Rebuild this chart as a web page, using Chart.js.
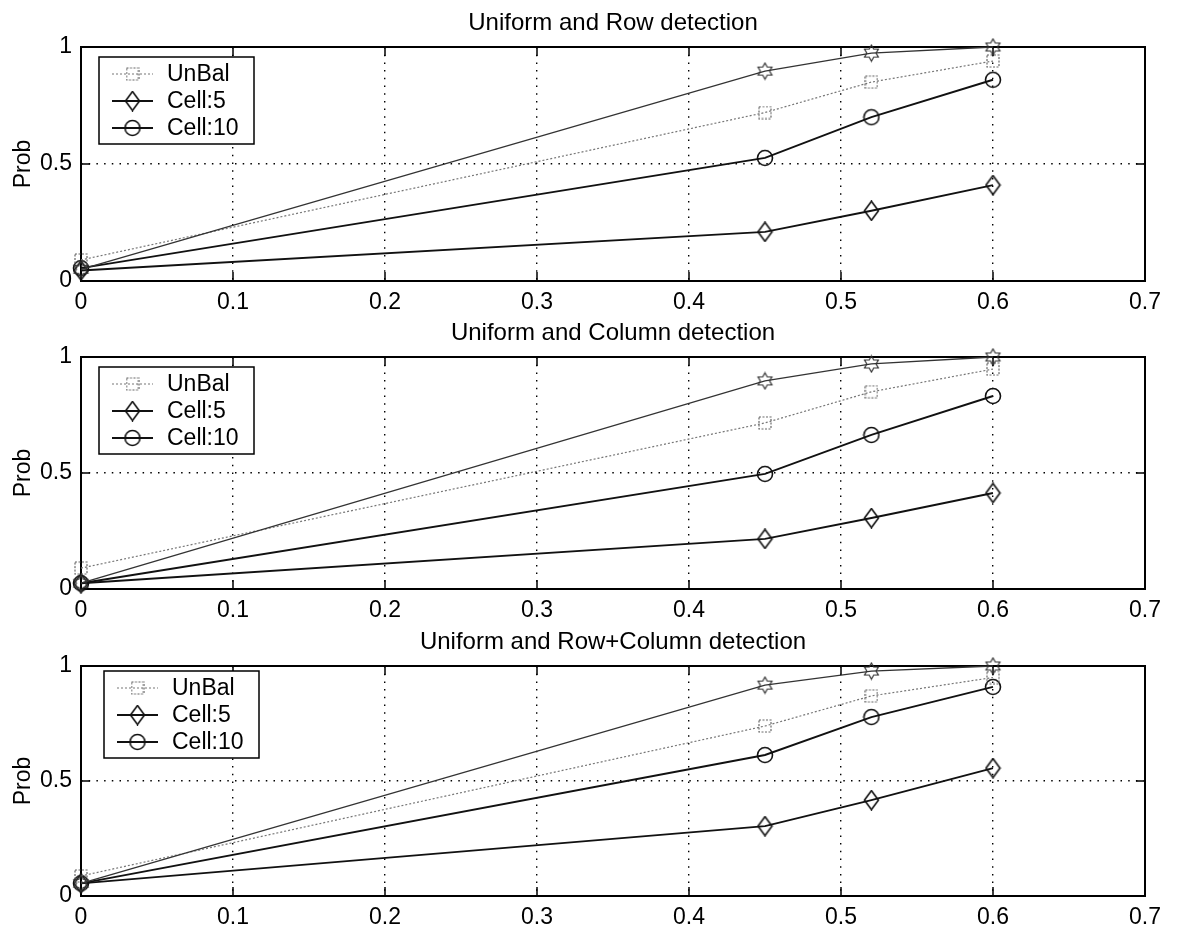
<!DOCTYPE html>
<html>
<head>
<meta charset="utf-8">
<title>Detection probability</title>
<script src="https://cdn.jsdelivr.net/npm/chart.js@4.4.1/dist/chart.umd.min.js"></script>
<style>
  body { margin: 0; background: #fff; }
  #wrap { position: relative; width: 1177px; height: 933px; }
  canvas { position: absolute; left: 0; }
</style>
</head>
<body>
<div id="wrap">
  <canvas id="rowChart" width="1177" height="320" style="top:0"></canvas>
  <canvas id="colChart" width="1177" height="310" style="top:320px"></canvas>
  <canvas id="bothChart" width="1177" height="303" style="top:630px"></canvas>
</div>
<script>
const xValues = [0, 0.45, 0.52, 0.6];
const xTicks = [0, 0.1, 0.2, 0.3, 0.4, 0.5, 0.6, 0.7];
const yTicks = [0, 0.5, 1];
const seriesNames = ["", "UnBal", "Cell:5", "Cell:10"];

// Uniform and Row detection
const rowStar = [0.05, 0.897, 0.974, 1.0];
const rowUnBal = [0.09, 0.72, 0.85, 0.94];
const rowCell5 = [0.045, 0.21, 0.30, 0.41];
const rowCell10 = [0.055, 0.526, 0.70, 0.86];

// Uniform and Column detection
const colStar = [0.025, 0.897, 0.97, 1.0];
const colUnBal = [0.09, 0.716, 0.85, 0.948];
const colCell5 = [0.025, 0.216, 0.306, 0.414];
const colCell10 = [0.025, 0.496, 0.664, 0.832];

// Uniform and Row+Column detection
const bothStar = [0.055, 0.917, 0.978, 1.0];
const bothUnBal = [0.087, 0.739, 0.87, 0.95];
const bothCell5 = [0.055, 0.304, 0.417, 0.556];
const bothCell10 = [0.055, 0.613, 0.778, 0.909];

const FONT = "'Liberation Sans', Arial, Helvetica, sans-serif";

// small canvases used as open (unfilled) point markers
function makeMarker(w, h, draw) {
  const c = document.createElement("canvas");
  c.width = w;
  c.height = h;
  draw(c.getContext("2d"), w, h);
  return c;
}

const starMark = makeMarker(19, 19, (ctx) => {
  ctx.strokeStyle = "#333";
  ctx.lineWidth = 1.2;
  const R = 8, r = R / Math.sqrt(3);
  ctx.beginPath();
  for (let k = 0; k < 12; k++) {
    const a = -Math.PI / 2 + (k * Math.PI) / 6;
    const rad = k % 2 === 0 ? R : r;
    const px = 9.5 + rad * Math.cos(a), py = 9.5 + rad * Math.sin(a);
    k ? ctx.lineTo(px, py) : ctx.moveTo(px, py);
  }
  ctx.closePath();
  ctx.stroke();
});

const squareMark = makeMarker(14, 14, (ctx) => {
  ctx.strokeStyle = "#666";
  ctx.lineWidth = 1.2;
  ctx.setLineDash([2, 1.5]);
  ctx.strokeRect(1, 1, 12, 12);
});

const diamondMark = makeMarker(17, 21, (ctx) => {
  ctx.strokeStyle = "#111";
  ctx.lineWidth = 1.6;
  ctx.beginPath();
  ctx.moveTo(8.5, 1);
  ctx.lineTo(15.5, 10.5);
  ctx.lineTo(8.5, 20);
  ctx.lineTo(1.5, 10.5);
  ctx.closePath();
  ctx.stroke();
});

const circleMark = makeMarker(18, 18, (ctx) => {
  ctx.strokeStyle = "#111";
  ctx.lineWidth = 1.6;
  ctx.beginPath();
  ctx.arc(9, 9, 7.5, 0, Math.PI * 2);
  ctx.stroke();
});

const styles = [
  { borderColor: "#333", borderWidth: 1.3, borderDash: [], pointStyle: starMark },
  { borderColor: "#777", borderWidth: 1.2, borderDash: [2, 2], pointStyle: squareMark },
  { borderColor: "#111", borderWidth: 1.9, borderDash: [], pointStyle: diamondMark },
  { borderColor: "#111", borderWidth: 1.9, borderDash: [], pointStyle: circleMark },
];

// frame with inward tick marks on all four sides
const framePlugin = {
  id: "frame",
  beforeDatasetsDraw(chart) {
    const { ctx, chartArea: a, scales } = chart;
    ctx.save();
    ctx.strokeStyle = "#000";
    ctx.lineWidth = 2;
    ctx.setLineDash([]);
    ctx.strokeRect(a.left, a.top, a.right - a.left, a.bottom - a.top);
    ctx.lineWidth = 1.5;
    ctx.beginPath();
    xTicks.forEach((v) => {
      const px = scales.x.getPixelForValue(v);
      ctx.moveTo(px, a.bottom); ctx.lineTo(px, a.bottom - 9);
      ctx.moveTo(px, a.top); ctx.lineTo(px, a.top + 9);
    });
    yTicks.forEach((v) => {
      const py = scales.y.getPixelForValue(v);
      ctx.moveTo(a.left, py); ctx.lineTo(a.left + 9, py);
      ctx.moveTo(a.right, py); ctx.lineTo(a.right - 9, py);
    });
    ctx.stroke();
    ctx.restore();
  },
};

// title, y label and a boxed legend inside the plot
const legendPlugin = {
  id: "boxLegend",
  afterDraw(chart, args, opts) {
    const { ctx, chartArea: a } = chart;
    ctx.save();
    ctx.fillStyle = "#000";
    ctx.font = "24px " + FONT;
    ctx.textAlign = "center";
    ctx.textBaseline = "alphabetic";
    ctx.fillText(opts.title, (a.left + a.right) / 2, a.top - 17);

    ctx.save();
    ctx.translate(30, (a.top + a.bottom) / 2);
    ctx.rotate(-Math.PI / 2);
    ctx.font = "23px " + FONT;
    ctx.fillText(opts.yLabel, 0, 0);
    ctx.restore();

    const bx = a.left + opts.dx, by = a.top + opts.dy;
    const items = chart.data.datasets.filter((d) => d.label);
    ctx.fillStyle = "#fff";
    ctx.fillRect(bx, by, 155, 87);
    ctx.strokeStyle = "#000";
    ctx.lineWidth = 1.5;
    ctx.strokeRect(bx, by, 155, 87);
    ctx.font = "23px " + FONT;
    ctx.textAlign = "left";
    ctx.textBaseline = "middle";
    items.forEach((d, i) => {
      const cy = by + 17 + i * 27;
      ctx.strokeStyle = d.borderColor;
      ctx.lineWidth = d.borderWidth;
      ctx.setLineDash(d.borderDash);
      ctx.beginPath();
      ctx.moveTo(bx + 13, cy);
      ctx.lineTo(bx + 54, cy);
      ctx.stroke();
      ctx.setLineDash([]);
      const m = d.pointStyle;
      ctx.drawImage(m, bx + 33.5 - m.width / 2, cy - m.height / 2);
      ctx.fillStyle = "#000";
      ctx.fillText(d.label, bx + 68, cy + 1);
    });
    ctx.restore();
  },
};

function buildChart(id, title, series, frameTop, frameBottom, legendDx, legendDy) {
  const canvas = document.getElementById(id);
  const datasets = series.map((ys, i) => ({
    label: seriesNames[i],
    data: ys.map((y, k) => ({ x: xValues[k], y: y })),
    borderColor: styles[i].borderColor,
    borderWidth: styles[i].borderWidth,
    borderDash: styles[i].borderDash,
    pointStyle: styles[i].pointStyle,
    pointRadius: 7,
    fill: false,
    tension: 0,
    clip: false,
  }));

  const gridOpts = { color: "#000", lineWidth: 1.4, drawTicks: false };
  const borderOpts = { display: false, dash: [1.5, 6.2] };

  return new Chart(canvas, {
    type: "line",
    data: { datasets },
    plugins: [framePlugin, legendPlugin],
    options: {
      responsive: false,
      animation: false,
      layout: { padding: { top: frameTop, right: 32, left: 0, bottom: 0 } },
      plugins: {
        legend: { display: false },
        tooltip: { enabled: false },
        boxLegend: { title: title, yLabel: "Prob", dx: legendDx, dy: legendDy },
      },
      scales: {
        x: {
          type: "linear",
          min: 0,
          max: 0.7,
          afterBuildTicks: (s) => { s.ticks = xTicks.map((v) => ({ value: v })); },
          afterFit: (s) => { s.height = canvas.height - frameBottom; },
          grid: gridOpts,
          border: borderOpts,
          ticks: {
            color: "#000",
            padding: 8,
            maxRotation: 0,
            font: { family: FONT, size: 23 },
            callback: (v) => String(v),
          },
        },
        y: {
          min: 0,
          max: 1,
          afterBuildTicks: (s) => { s.ticks = yTicks.map((v) => ({ value: v })); },
          afterFit: (s) => { s.width = 81; },
          grid: gridOpts,
          border: borderOpts,
          ticks: {
            color: "#000",
            padding: 9,
            font: { family: FONT, size: 23 },
            callback: (v) => String(v),
          },
        },
      },
    },
  });
}

buildChart("rowChart", "Uniform and Row detection",
  [rowStar, rowUnBal, rowCell5, rowCell10], 47, 281, 18, 10);
buildChart("colChart", "Uniform and Column detection",
  [colStar, colUnBal, colCell5, colCell10], 37, 269, 18, 10);
buildChart("bothChart", "Uniform and Row+Column detection",
  [bothStar, bothUnBal, bothCell5, bothCell10], 36, 266, 23, 5);
</script>
</body>
</html>
